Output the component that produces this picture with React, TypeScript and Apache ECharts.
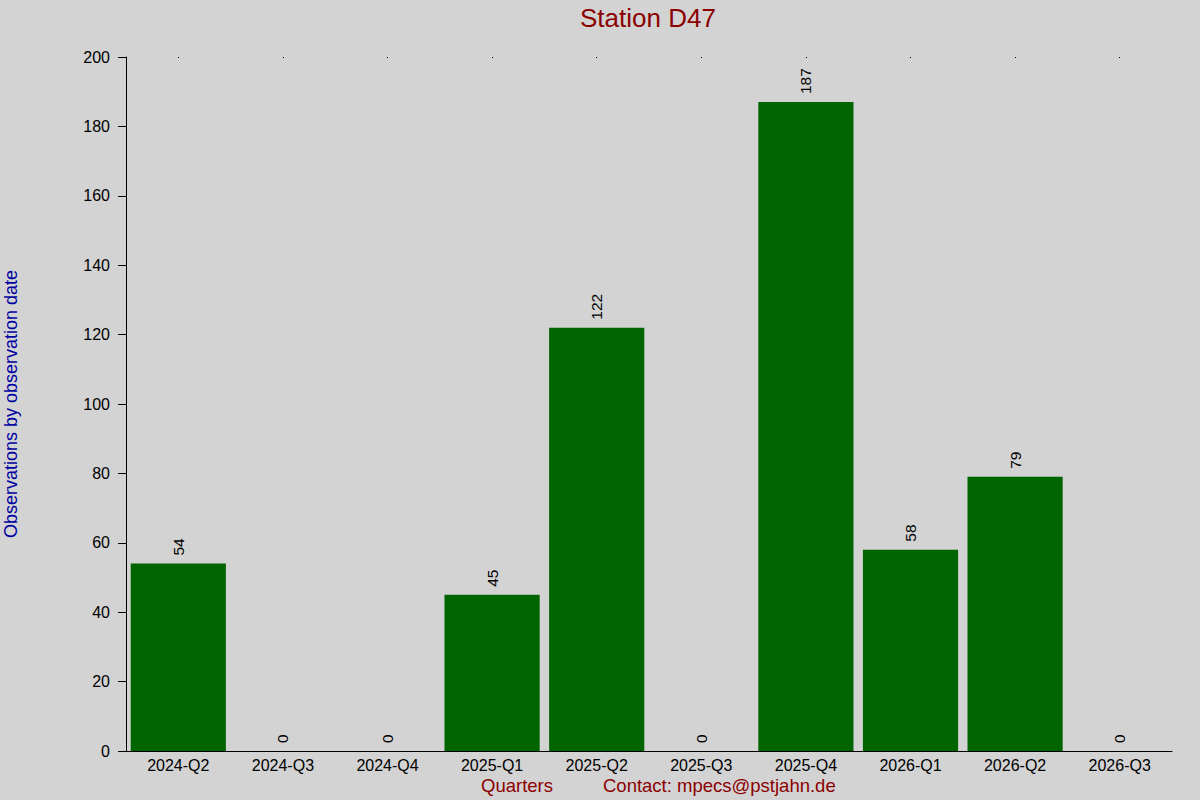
import React, { useEffect, useRef } from 'react';
import * as echarts from 'echarts';

const quarters = [
  '2024-Q2', '2024-Q3', '2024-Q4', '2025-Q1', '2025-Q2',
  '2025-Q3', '2025-Q4', '2026-Q1', '2026-Q2', '2026-Q3',
];
const observations = [54, 0, 0, 45, 122, 0, 187, 58, 79, 0];

const FONT = '"Liberation Sans", Arial, sans-serif';

const App: React.FC = () => {
  const chartRef = useRef<HTMLDivElement>(null);

  useEffect(() => {
    const chart = echarts.init(chartRef.current!, undefined, { renderer: 'svg' });

    const options = {
      animation: false,
      backgroundColor: '#d3d3d3',
      textStyle: { fontFamily: FONT },
      title: {
        text: 'Station D47',
        left: 575,
        top: 0,
        textStyle: { color: '#8b0000', fontSize: 26, fontWeight: 'normal', fontFamily: FONT },
      },
      grid: { left: 126, right: 28, top: 57, bottom: 49, outerBoundsMode: 'none', containLabel: false },
      xAxis: [
        {
          type: 'category',
          data: quarters,
          position: 'bottom',
          axisLine: { show: true, lineStyle: { color: '#000', width: 1 } },
          axisTick: { show: false },
          axisLabel: { color: '#000', fontSize: 16, margin: 6, fontFamily: FONT, interval: 0 },
        },
        {
          type: 'category',
          data: quarters,
          position: 'top',
          axisLine: { show: false },
          axisTick: { show: true, alignWithLabel: true, inside: true, length: 1, lineStyle: { color: '#000' } },
          axisLabel: { show: false },
        },
      ],
      yAxis: {
        type: 'value',
        min: 0,
        max: 200,
        interval: 20,
        name: 'Observations by observation date',
        nameLocation: 'middle',
        nameGap: 106,
        nameTextStyle: { color: '#0000a0', fontSize: 18, fontFamily: FONT },
        axisLine: { show: true, lineStyle: { color: '#000', width: 1 } },
        axisTick: { show: true, length: 8, lineStyle: { color: '#000' } },
        axisLabel: { color: '#000', fontSize: 16, margin: 16, fontFamily: FONT },
        splitLine: { show: false },
      },
      series: [
        {
          type: 'bar',
          data: observations,
          barCategoryGap: '9%',
          itemStyle: { color: '#006400' },
          label: {
            show: true,
            position: 'top',
            rotate: 90,
            align: 'left',
            verticalAlign: 'middle',
            distance: 8,
            color: '#000',
            fontSize: 15.5,
            fontFamily: FONT,
          },
        },
      ],
      graphic: [
        {
          type: 'text',
          left: 481,
          top: 776,
          style: { text: 'Quarters', fill: '#8b0000', fontSize: 18.5, fontFamily: FONT },
        },
        {
          type: 'text',
          left: 603,
          top: 776,
          style: { text: 'Contact: mpecs@pstjahn.de', fill: '#8b0000', fontSize: 18.5, fontFamily: FONT },
        },
      ],
    };

    chart.setOption(options as any);

    return () => {
      chart.dispose();
    };
  }, []);

  return (
    <div
      ref={chartRef}
      style={{ position: 'fixed', left: 0, top: 0, width: '1200px', height: '800px' }}
    />
  );
};

export default App;
